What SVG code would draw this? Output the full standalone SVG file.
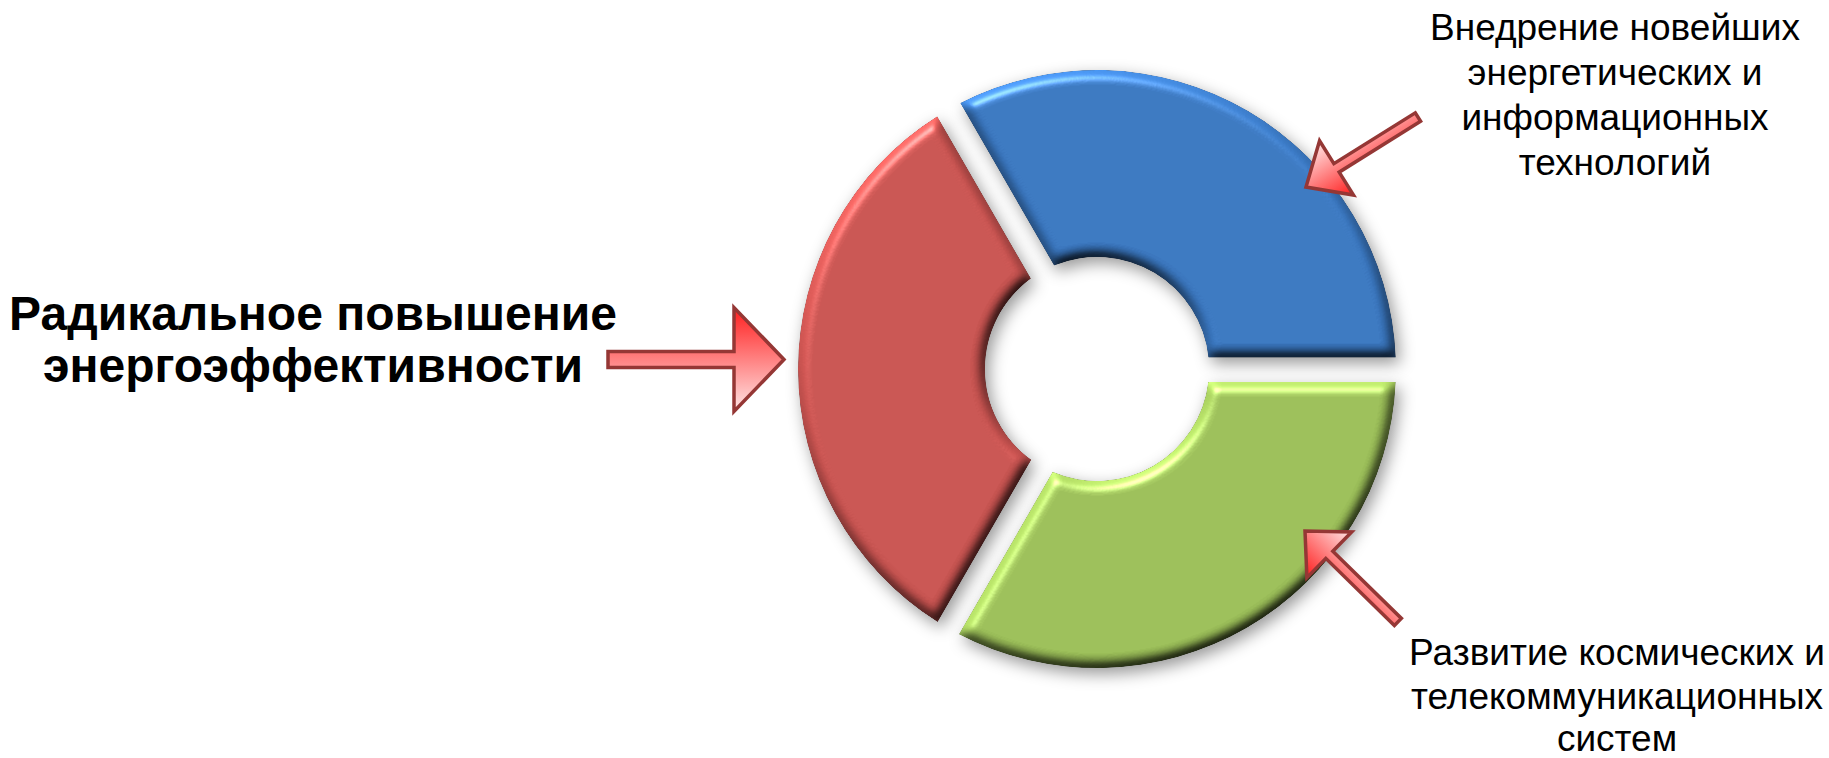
<svg xmlns="http://www.w3.org/2000/svg" width="1829" height="758" viewBox="0 0 1829 758">
<defs>
<style>
.lbl{font-family:"Liberation Sans",Arial,sans-serif;font-size:37px;fill:#000;text-anchor:middle}
.big{font-family:"Liberation Sans",Arial,sans-serif;font-size:48px;font-weight:bold;fill:#000;text-anchor:middle}
.arr{fill:url(#arrG);stroke:#953735;stroke-width:3.5;stroke-linejoin:miter;stroke-miterlimit:10}
.seg{filter:url(#bev)}
</style>
<linearGradient id="arrG" x1="0" y1="0" x2="0" y2="1">
<stop offset="0" stop-color="#ff1e1e"/>
<stop offset="0.5" stop-color="#ff8282"/>
<stop offset="1" stop-color="#ffe6e6"/>
</linearGradient>
<filter id="bev" x="-15%" y="-15%" width="135%" height="135%" color-interpolation-filters="sRGB">
<feGaussianBlur in="SourceAlpha" stdDeviation="6" result="b"/>
<feDiffuseLighting in="b" surfaceScale="6" diffuseConstant="1" lighting-color="#ffffff" result="d">
<feDistantLight azimuth="245" elevation="50"/>
</feDiffuseLighting>
<feSpecularLighting in="b" surfaceScale="6" specularConstant="0.5" specularExponent="45" lighting-color="#ffffff" result="s">
<feDistantLight azimuth="245" elevation="50"/>
</feSpecularLighting>
<feComposite in="SourceGraphic" in2="d" operator="arithmetic" k1="1.27" k2="0" k3="0" k4="0" result="lit0"/>
<feComposite in="lit0" in2="SourceAlpha" operator="in" result="lit1"/>
<feComposite in="s" in2="SourceAlpha" operator="in" result="s2"/>
<feComposite in="lit1" in2="s2" operator="arithmetic" k1="0" k2="1" k3="0.7" k4="0" result="lit"/>
<feGaussianBlur in="SourceAlpha" stdDeviation="8" result="sb"/>
<feOffset in="sb" dx="4" dy="6" result="so"/>
<feFlood flood-color="#000" flood-opacity="0.4"/>
<feComposite in2="so" operator="in" result="sh"/>
<feMerge><feMergeNode in="sh"/><feMergeNode in="lit"/></feMerge>
</filter>
</defs>
<rect width="1829" height="758" fill="#fff"/>

<g id="node-red">
<path class="seg" fill="#cb5451" d="M937.65,621.99 A299,299 0 0 1 937.23,116.27 L1030.93,278.56 A112,112 0 0 0 1031.33,459.73 Z"/>
</g>
<g id="node-blue">
<path class="seg" fill="#3a78c2" d="M960.23,103.12 A299,299 0 0 1 1395.78,357.5 L1208.41,357.5 A112,112 0 0 0 1054.03,265.57 Z"/>
</g>
<g id="node-green">
<path class="seg" fill="#9dc159" d="M1395.72,382 A299,299 0 0 1 958.9,634.19 L1052.64,471.83 A112,112 0 0 0 1208.24,382 Z"/>
</g>

<g id="node-left-text">
<text class="big" x="313" y="330">Радикальное повышение</text>
<text class="big" x="313" y="382">энергоэффективности</text>
</g>
<g id="node-top-text">
<text class="lbl" x="1615" y="40">Внедрение новейших</text>
<text class="lbl" x="1615" y="85">энергетических и</text>
<text class="lbl" x="1615" y="130">информационных</text>
<text class="lbl" x="1615" y="175">технологий</text>
</g>
<g id="node-bottom-text">
<text class="lbl" x="1617" y="665">Развитие космических и</text>
<text class="lbl" x="1617" y="709">телекоммуникационных</text>
<text class="lbl" x="1617" y="751">систем</text>
</g>

<g id="connectors">
<path class="arr" transform="translate(784,359.5)" d="M-176,-8 H-50 V-52 L0,0 L-50,52 V8 H-176 Z"/>
<path class="arr" transform="translate(1306,187) rotate(148)" d="M-132,-5 H-36 V-32 L0,0 L-36,32 V5 H-132 Z"/>
<path class="arr" transform="translate(1305,531) rotate(224.4)" d="M-130,-5 H-34 V-32 L0,0 L-34,32 V5 H-130 Z"/>
</g>
</svg>
